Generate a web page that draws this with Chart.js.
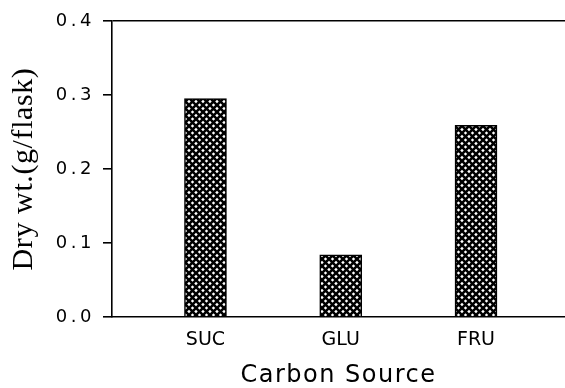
<!DOCTYPE html>
<html>
<head>
<meta charset="utf-8">
<script src="https://cdn.jsdelivr.net/npm/chart.js@4.4.1/dist/chart.umd.min.js"></script>
<style>
  body { margin: 0; background: #fff; }
  #wrap { width: 565px; height: 388px; }
</style>
</head>
<body>
<div id="wrap"><canvas id="DryWeightBar"></canvas></div>
<script>
// data
const carbonSources = ['SUC', 'GLU', 'FRU'];
const dryWeights = [0.295, 0.084, 0.259];
const yTicks = [0.0, 0.1, 0.2, 0.3, 0.4];

// cross-hatch fill like the old plotter bars
function makeHatch(){
    const c = document.createElement('canvas');
    c.width = 7; c.height = 7;
    const g = c.getContext('2d');
    g.fillStyle = '#fff';
    g.fillRect(0, 0, 7, 7);
    g.strokeStyle = '#000';
    g.lineWidth = 2.6;
    g.beginPath();
    g.moveTo(-1, -1); g.lineTo(8, 8);
    g.moveTo(-1, 8); g.lineTo(8, -1);
    g.stroke();
    return g.createPattern(c, 'repeat');
}

// chart.js has no letter spacing option, so wrap the draw calls
function spaced(scale, fnName, spacing){
    const key = '_sp_' + fnName;
    if (scale[key]) return;
    const orig = scale[fnName];
    scale[fnName] = function(area){
        const ctx = this.ctx;
        const old = ctx.letterSpacing;
        ctx.letterSpacing = spacing;
        orig.call(this, area);
        ctx.letterSpacing = old;
    };
    scale[key] = true;
}

const ctx = document.getElementById('DryWeightBar').getContext('2d');
new Chart(ctx, {
    type: 'bar',
    data: {
        datasets: [{
            label: 'Dry wt.',
            data: carbonSources.map((s, i) => ({ x: i + 1, y: dryWeights[i] })),
            backgroundColor: makeHatch(),
            borderColor: '#000',
            borderWidth: 1.5,
            barThickness: 42
        }]
    },
    options: {
        responsive: true,
        maintainAspectRatio: false,
        animation: false,
        layout: { padding: { top: 21, right: 0, left: 0, bottom: 0 } },
        plugins: {
            legend: { display: false },
            tooltip: { enabled: false }
        },
        scales: {
            x: {
                type: 'linear',
                offset: false,
                min: 0.309,
                max: 3.658,
                afterBuildTicks: (scale) => {
                    scale.ticks = carbonSources.map((s, i) => ({ value: i + 1 }));
                },
                afterFit: (scale) => {
                    scale.height = 71;
                    spaced(scale, 'drawTitle', '1.5px');
                },
                ticks: {
                    color: '#000',
                    padding: 12,
                    font: { size: 19, family: 'DejaVu Sans' },
                    callback: (v) => carbonSources[v - 1] || ''
                },
                grid: { display: false, drawTicks: false },
                border: { display: true, color: '#000', width: 1.6 },
                title: {
                    display: true,
                    text: 'Carbon Source',
                    color: '#000',
                    padding: { top: 0, bottom: 0 },
                    font: { size: 24, family: 'DejaVu Sans', lineHeight: 1 }
                }
            },
            y: {
                min: 0,
                max: 0.4,
                afterBuildTicks: (scale) => {
                    scale.ticks = yTicks.map(v => ({ value: v }));
                },
                afterFit: (scale) => {
                    scale.width = 112;
                    spaced(scale, 'drawLabels', '3.5px');
                    spaced(scale, 'drawTitle', '0.6px');
                },
                ticks: {
                    color: '#000',
                    padding: 8,
                    font: { size: 18, family: 'DejaVu Sans' },
                    callback: (v) => v.toFixed(1)
                },
                grid: {
                    drawOnChartArea: true,
                    // only the top line runs across the plot
                    color: (c) => (c.tick && c.tick.value > 0.399) ? '#000' : 'rgba(0,0,0,0)',
                    tickColor: '#000',
                    tickLength: 9,
                    lineWidth: 1.6
                },
                border: { display: true, color: '#000', width: 1.6 },
                title: {
                    display: true,
                    text: 'Dry wt.(g/flask)',
                    color: '#000',
                    padding: { top: 6, bottom: 0 },
                    font: { size: 30, family: 'Liberation Serif' }
                }
            }
        }
    }
});
</script>
</body>
</html>
